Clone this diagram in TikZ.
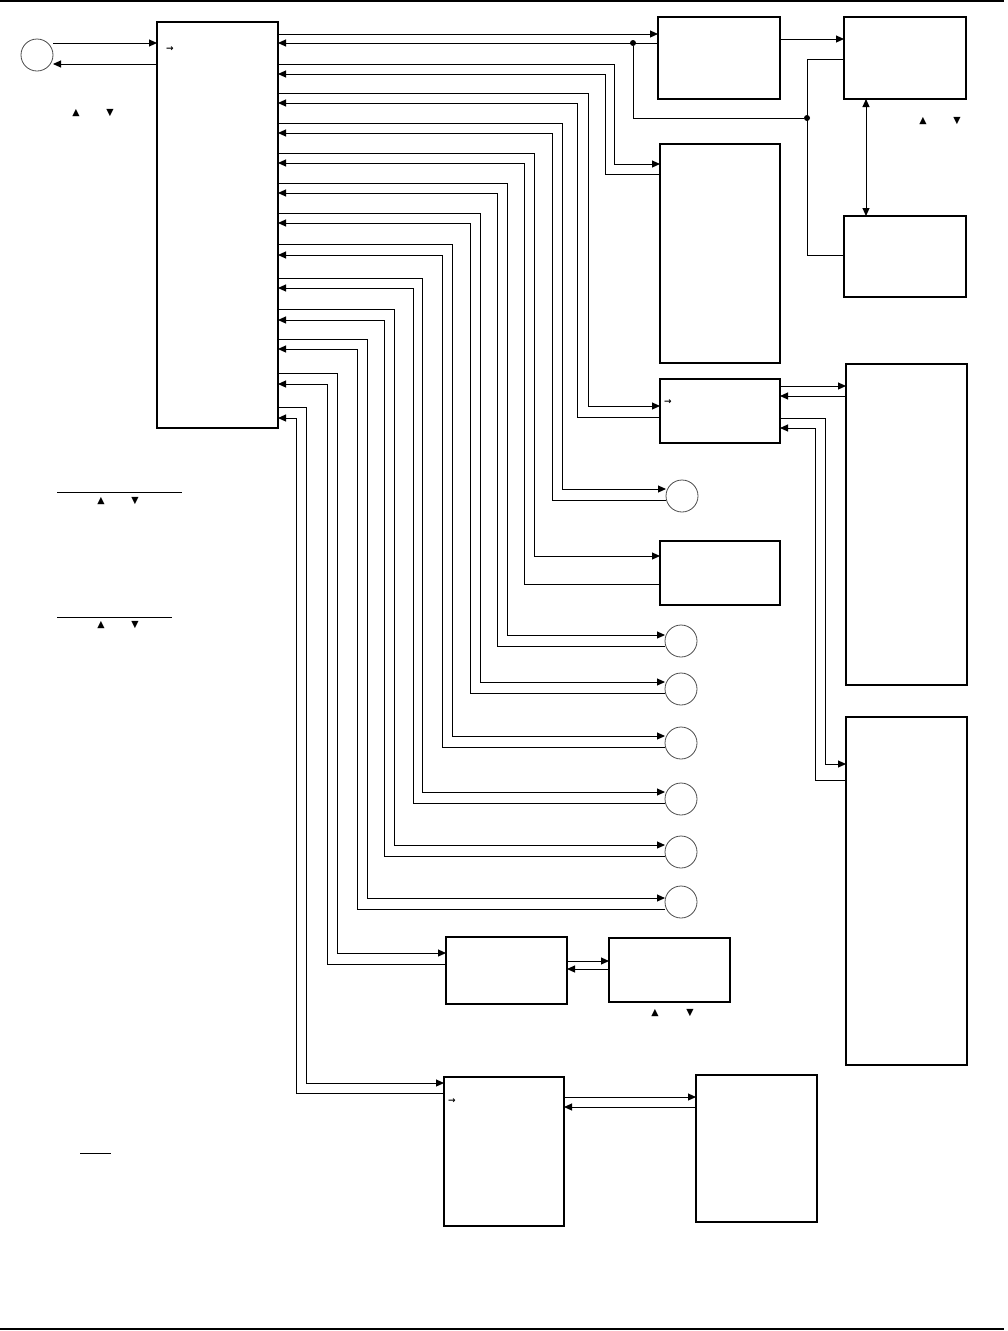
\documentclass[tikz,border=0pt]{standalone}
\usepackage{fontspec}
\newfontfamily\dejavu{DejaVu Sans}
\usetikzlibrary{arrows.meta}
\begin{document}
\begin{tikzpicture}[x=1pt,y=-1pt,
  con/.style={line width=1pt},
  tip/.style={-{Triangle[length=8pt,width=7pt]}},
  dtip/.style={{Triangle[length=8pt,width=7pt]}-{Triangle[length=8pt,width=7pt]}},
  box/.style={draw, line width=1.3pt, anchor=north west, inner sep=0, outer sep=0},
  circ/.style={circle, draw=black!70, line width=0.8pt, minimum size=32pt, inner sep=0, outer sep=0},
  dot/.style={circle, fill, inner sep=0, minimum size=6pt},
  glyph/.style={inner sep=0, font=\dejavu\fontsize{9.5}{9.5}\selectfont},
  sglyph/.style={inner sep=0, font=\dejavu\bfseries\fontsize{9}{9}\selectfont},
  rule/.style={line width=1pt},
]
\useasboundingbox (0,0) rectangle (1008,1331);

% page rules
\draw[line width=1.2pt] (0,1) -- (1004,1);
\draw[line width=2.5pt] (0,1329) -- (1004,1329);

% nodes
\node[box, line width=2pt, minimum width=121pt, minimum height=406pt] (M) at (157,22) {};
\node[circ] (T) at (37,55) {};
\node[box, minimum width=122pt, minimum height=82pt] (A) at (658,17) {};
\node[box, minimum width=122pt, minimum height=82pt] (I) at (844,17) {};
\node[box, minimum width=122pt, minimum height=81pt] (J) at (844,216) {};
\node[box, minimum width=120pt, minimum height=219pt] (B) at (660,144) {};
\node[box, minimum width=120pt, minimum height=64pt] (C) at (660,379) {};
\node[box, minimum width=121pt, minimum height=321pt] (G) at (846,364) {};
\node[box, minimum width=121pt, minimum height=348pt] (H) at (846,717) {};
\node[circ] (C1) at (682,496) {};
\node[box, minimum width=120pt, minimum height=64pt] (D) at (660,541) {};
\node[circ] (C2) at (681,641) {};
\node[circ] (C3) at (681,689) {};
\node[circ] (C4) at (681,743) {};
\node[circ] (C5) at (681,799) {};
\node[circ] (C6) at (681,852) {};
\node[circ] (C7) at (681,902) {};
\node[box, minimum width=121pt, minimum height=67pt] (E) at (446,937) {};
\node[box, minimum width=121pt, minimum height=64pt] (E2) at (609,938) {};
\node[box, minimum width=120pt, minimum height=149pt] (F) at (444,1077) {};
\node[box, minimum width=121pt, minimum height=147pt] (F2) at (696,1075) {};

% small glyphs
\node[sglyph] (sa1) at (170,49) {→};
\node[sglyph] (sa2) at (668,402) {→};
\node[sglyph] (sa3) at (452,1101) {→};
\node[glyph] (u1) at (76,113) {▲};
\node[glyph] (d1) at (110,113) {▼};
\node[glyph] (u2) at (923,121) {▲};
\node[glyph] (d2) at (957,121) {▼};
\node[glyph] (u3) at (101,501) {▲};
\node[glyph] (d3) at (135,501) {▼};
\node[glyph] (u4) at (101,625) {▲};
\node[glyph] (d4) at (135,625) {▼};
\node[glyph] (u5) at (655,1013) {▲};
\node[glyph] (d5) at (690,1013) {▼};

% underlines
\draw[rule] (57,492) -- (182,492);
\draw[rule] (57,617) -- (172,617);
\draw[rule] (80,1153) -- (111,1153);

% circle T <-> main
\draw[con,tip] (T.east |- 0,43) -- (M.west |- 0,43);
\draw[con,tip] (M.west |- 0,64) -- (T.east |- 0,64);

% pair 1 and top right
\draw[con,tip] (M.east |- 0,34) -- (A.west |- 0,34);
\draw[con,tip] (A.west |- 0,43) -- (M.east |- 0,43);
\node[dot] (j1) at (633,43) {};
\node[dot] (j2) at (807,118) {};
\draw[con] (j1) -- (633,118) -- (j2);
\draw[con,tip] (A.east |- 0,39) -- (I.west |- 0,39);
\draw[con] (I.west |- 0,59) -- (807,59) -- (807,255) -- (J.west |- 0,255);
\draw[con,dtip] (I.south -| 866,0) -- (J.north -| 866,0);

% bus pairs
\foreach \yo/\yi/\xo/\xi/\t/\to/\ti in {
  64/74/614/605/B/164/174,
  93/103/588/577/C/406/417,
  123/133/562/552/C1/489/500,
  153/163/534/524/D/556/584,
  183/193/507/497/C2/635/646,
  213/223/480/470/C3/682/693,
  244/255/452/442/C4/736/747,
  278/288/422/413/C5/792/803,
  309/320/394/384/C6/845/856,
  339/349/367/357/C7/898/909,
  373/384/337/327/E/953/964,
  407/418/306/296/F/1083/1093}{
  \draw[con,tip] (M.east |- 0,\yo) -- (\xo,\yo) -- (\xo,\to) -- (\t.west |- 0,\to);
  \draw[con,tip] (\t.west |- 0,\ti) -- (\xi,\ti) -- (\xi,\yi) -- (M.east |- 0,\yi);
}

% C <-> G, C <-> H
\draw[con,tip] (C.east |- 0,386) -- (G.west |- 0,386);
\draw[con,tip] (G.west |- 0,396) -- (C.east |- 0,396);
\draw[con,tip] (C.east |- 0,418) -- (825,418) -- (825,764) -- (H.west |- 0,764);
\draw[con,tip] (H.west |- 0,780) -- (815,780) -- (815,428) -- (C.east |- 0,428);

% E <-> E2, F <-> F2
\draw[con,tip] (E.east |- 0,961) -- (E2.west |- 0,961);
\draw[con,tip] (E2.west |- 0,969) -- (E.east |- 0,969);
\draw[con,tip] (F.east |- 0,1097) -- (F2.west |- 0,1097);
\draw[con,tip] (F2.west |- 0,1107) -- (F.east |- 0,1107);
\end{tikzpicture}
\end{document}
